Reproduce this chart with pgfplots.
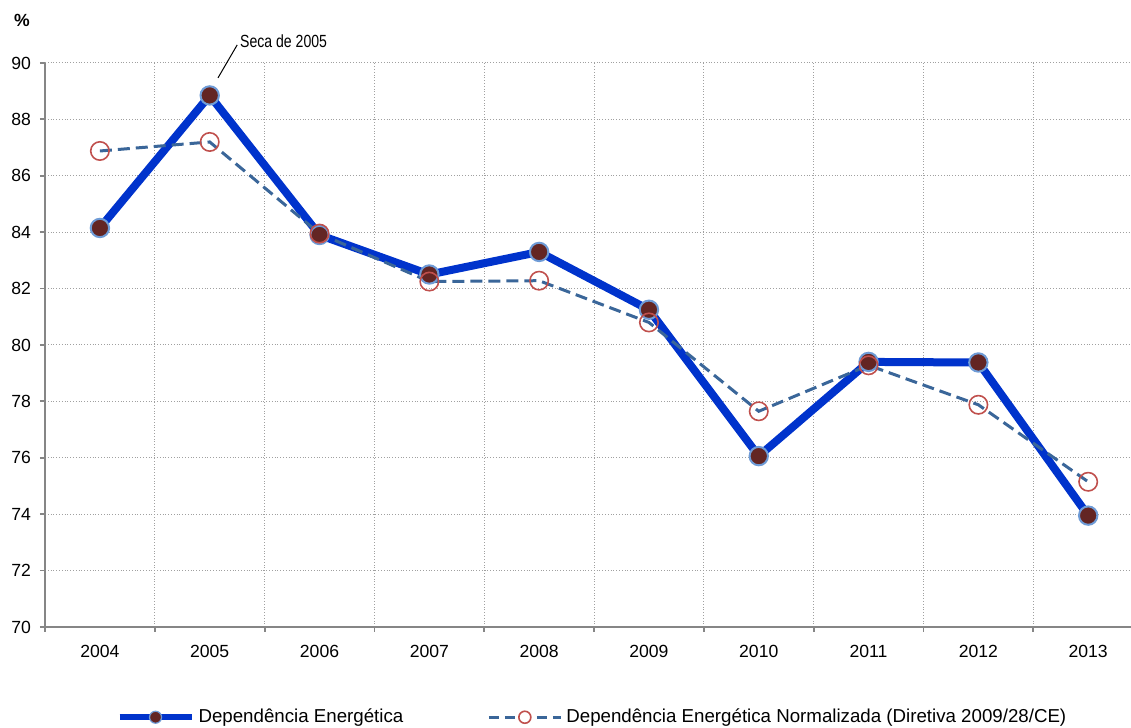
\documentclass[border=0pt]{standalone}
\usepackage{fontspec}
\setmainfont{Liberation Sans}
\newfontfamily\narrowfont[FakeStretch=0.8]{Liberation Sans}
\usepackage{pgfplots}
\pgfplotsset{compat=1.18}
\definecolor{lineblue}{HTML}{0033CC}
\definecolor{markfill}{HTML}{632523}
\definecolor{markedge}{HTML}{6E9BD6}
\definecolor{dashblue}{HTML}{3A6699}
\definecolor{circred}{HTML}{C0504D}
\definecolor{axisgray}{HTML}{868686}
\definecolor{gridgray}{HTML}{A0A0A0}
\newcommand\f{\fontsize{8.8}{10}\selectfont}
\newcommand\fl{\fontsize{9.35}{11}\selectfont}
\begin{document}
\begin{tikzpicture}
\begin{axis}[
  at={(0,0)}, anchor=south west,
  scale only axis, width=543pt, height=282pt,
  xmin=-0.5, xmax=9.39, ymin=70, ymax=90,
  clip=false,
  axis lines=left,
  axis line style={draw=axisgray, line width=0.9pt, -},
  tick align=outside,
  /pgf/number format/assume math mode=true,
  xtick={0,1,2,3,4,5,6,7,8,9},
  xticklabels={2004,2005,2006,2007,2008,2009,2010,2011,2012,2013},
  major x tick style={draw=none},
  minor xtick={-0.5,0.5,1.5,2.5,3.5,4.5,5.5,6.5,7.5,8.5},
  minor x tick style={draw=axisgray, line width=0.9pt},
  minor tick length=2.5pt,
  xminorgrids,
  minor x grid style={draw=gridgray, densely dotted, line width=0.5pt},
  ytick={70,72,74,76,78,80,82,84,86,88,90},
  ymajorgrids,
  major y grid style={draw=gridgray, densely dotted, line width=0.5pt},
  major y tick style={draw=axisgray, line width=0.9pt},
  major tick length=2.5pt,
  tick label style={font=\f, text=black},
  yticklabel style={xshift=-1pt},
  xticklabel style={yshift=-3pt},
  legend columns=2,
  legend cell align=left,
  legend style={at={(0.505,-0.16)}, anchor=center, draw=none, font=\fl,
    /tikz/every even column/.append style={column sep=40pt}},
]
\addplot[lineblue, line width=4pt, mark=*, mark size=4.6pt,
  mark options={fill=markfill, draw=markedge, line width=1pt, solid},
  legend image code/.code={
    \draw[lineblue,line width=3pt] (0pt,0pt) -- (36pt,0pt);
    \draw[markedge, fill=markfill, line width=0.6pt, solid] (18pt,0pt) circle (3pt);}]
coordinates {(0,84.15) (1,88.85) (2,83.9) (3,82.5) (4,83.3) (5,81.25) (6,76.06) (7,79.4) (8,79.38) (9,73.95)};
\addlegendentry{Dependência Energética}
\addplot[dashblue, line width=1.5pt, dash pattern=on 6pt off 3pt, mark=o, mark size=4.6pt,
  mark options={draw=circred, line width=0.8pt, solid},
  legend image code/.code={
    \draw[dashblue,line width=1.5pt, dash pattern=on 5pt off 3pt] (0pt,0pt) -- (36pt,0pt);
    \draw[circred, line width=0.8pt, solid, fill=white] (18pt,0pt) circle (3pt);}]
coordinates {(0,86.88) (1,87.2) (2,83.95) (3,82.25) (4,82.28) (5,80.8) (6,77.65) (7,79.28) (8,77.88) (9,75.15)};
\addlegendentry{Dependência Energética Normalizada (Diretiva 2009/28/CE)}
\draw[black, line width=0.5pt] (axis cs:1.075,89.47) -- (axis cs:1.25,90.64);
\node[anchor=west, font=\narrowfont\f, inner sep=1pt] at (axis cs:1.255,90.76) {Seca de 2005};
\node[font=\bfseries\f] at (axis cs:-0.71,91.52) {\%};
\end{axis}
\pgfresetboundingbox
\useasboundingbox (-22.5pt,-50.5pt) rectangle (543pt,313.5pt);
\end{tikzpicture}
\end{document}
